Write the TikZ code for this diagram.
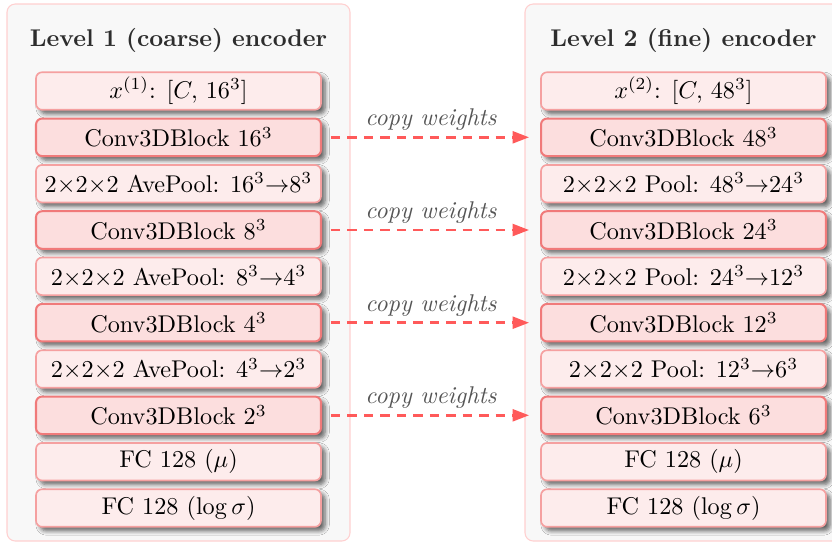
\documentclass[tikz,border=0pt]{standalone}
\usepackage{amsmath}
\usetikzlibrary{shadows.blur,arrows.meta}
\definecolor{panelfill}{RGB}{248,248,248}
\definecolor{paneldraw}{RGB}{255,208,208}
\definecolor{convfill}{RGB}{252,222,222}
\definecolor{convdraw}{RGB}{240,122,122}
\definecolor{layfill}{RGB}{253,236,236}
\definecolor{laydraw}{RGB}{245,160,160}
\definecolor{arrowred}{RGB}{255,90,90}
\definecolor{titlegray}{RGB}{45,45,45}
\definecolor{labelgray}{RGB}{85,85,85}
\tikzset{
  panel/.style={draw=paneldraw, fill=panelfill, line width=0.45pt, rounded corners=3.4pt},
  layerbox/.style={draw=laydraw, fill=layfill, line width=0.68pt, rounded corners=2.5pt,
    minimum width=117.7pt, minimum height=15.5pt, inner sep=0pt, text=black,
    blur shadow={shadow xshift=1.7pt, shadow yshift=-1.7pt, shadow opacity=60, shadow blur steps=6, shadow blur extra rounding=1pt}},
  convbox/.style={layerbox, draw=convdraw, fill=convfill, line width=0.83pt},
  paneltitle/.style={font=\bfseries, text=titlegray},
  copyarrow/.style={draw=arrowred, line width=1.07pt, dash pattern=on 3.9pt off 2.9pt,
    -{Triangle[length=6.8pt,width=4.9pt]}, shorten <=3.7pt, shorten >=4.5pt},
  copylabel/.style={font=\itshape, text=labelgray, inner sep=0pt, above=2.2pt}
}
\begin{document}
\begin{tikzpicture}[x=0.413pt, y=-0.413pt]
\useasboundingbox (0,0) rectangle (832,542);
\begin{scope}
\clip (0,0) rectangle (832,542);
\draw[panel] (7,4) rectangle (350,541);
\draw[panel] (525,4) rectangle (868,541);
\end{scope}
\node[paneltitle] (t1) at (178.5,40) {Level 1 (coarse) encoder};
\node[paneltitle] (t2) at (683.5,40) {Level 2 (fine) encoder};
% left column
\node[layerbox] (l1) at (178.5,91) {$x^{(1)}$: $[C,\,16^3]$};
\node[convbox]  (l2) at (178.5,137.3) {Conv3DBlock $16^3$};
\node[layerbox] (l3) at (178.5,183.7) {$2{\times}2{\times}2$ AvePool: $16^3{\to}8^3$};
\node[convbox]  (l4) at (178.5,230) {Conv3DBlock $8^3$};
\node[layerbox] (l5) at (178.5,276.3) {$2{\times}2{\times}2$ AvePool: $8^3{\to}4^3$};
\node[convbox]  (l6) at (178.5,322.7) {Conv3DBlock $4^3$};
\node[layerbox] (l7) at (178.5,369) {$2{\times}2{\times}2$ AvePool: $4^3{\to}2^3$};
\node[convbox]  (l8) at (178.5,415.3) {Conv3DBlock $2^3$};
\node[layerbox] (l9) at (178.5,461.7) {FC 128 ($\mu$)};
\node[layerbox] (l10) at (178.5,508) {FC 128 ($\log\sigma$)};
% right column
\node[layerbox] (r1) at (683.5,91) {$x^{(2)}$: $[C,\,48^3]$};
\node[convbox]  (r2) at (683.5,137.3) {Conv3DBlock $48^3$};
\node[layerbox] (r3) at (683.5,183.7) {$2{\times}2{\times}2$ Pool: $48^3{\to}24^3$};
\node[convbox]  (r4) at (683.5,230) {Conv3DBlock $24^3$};
\node[layerbox] (r5) at (683.5,276.3) {$2{\times}2{\times}2$ Pool: $24^3{\to}12^3$};
\node[convbox]  (r6) at (683.5,322.7) {Conv3DBlock $12^3$};
\node[layerbox] (r7) at (683.5,369) {$2{\times}2{\times}2$ Pool: $12^3{\to}6^3$};
\node[convbox]  (r8) at (683.5,415.3) {Conv3DBlock $6^3$};
\node[layerbox] (r9) at (683.5,461.7) {FC 128 ($\mu$)};
\node[layerbox] (r10) at (683.5,508) {FC 128 ($\log\sigma$)};
% copy arrows
\draw[copyarrow] (l2) -- node[copylabel] {copy weights} (r2);
\draw[copyarrow] (l4) -- node[copylabel] {copy weights} (r4);
\draw[copyarrow] (l6) -- node[copylabel] {copy weights} (r6);
\draw[copyarrow] (l8) -- node[copylabel] {copy weights} (r8);
\end{tikzpicture}
\end{document}
